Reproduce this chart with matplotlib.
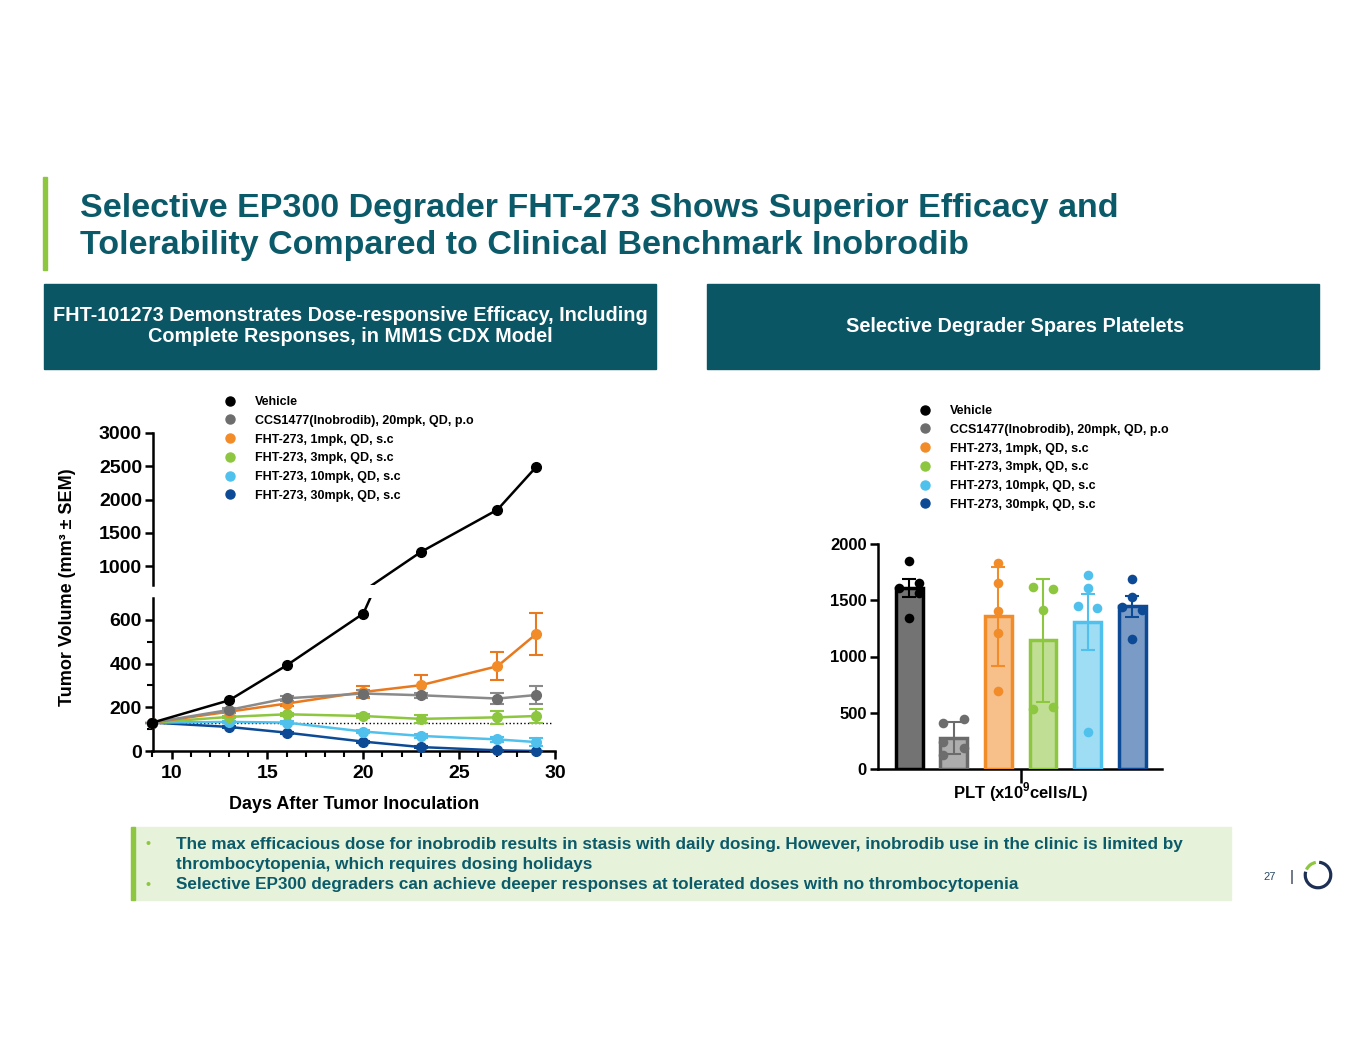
import matplotlib.pyplot as plt
from matplotlib.patches import Rectangle, Arc
from matplotlib.lines import Line2D
from matplotlib.colors import to_rgba

plt.rcParams['font.family'] = ['Liberation Sans', 'DejaVu Sans']
plt.rcParams['font.weight'] = 'bold'
plt.rcParams['axes.labelweight'] = 'bold'
plt.rcParams['mathtext.fontset'] = 'custom'
plt.rcParams['mathtext.bf'] = 'Liberation Sans:bold'

# ---- data: tumour volume (mm3) by day ----
days = [9, 13, 16, 20, 23, 27, 29]
vehicle = [130, 232, 392, 629, 1215, 1850, 2485]
ccs1477 = [130, 188, 241, 263, 255, 240, 256]
fht_1 = [130, 180, 217, 270, 301, 388, 534]
fht_3 = [130, 156, 168, 160, 147, 154, 160]
fht_10 = [130, 133, 130, 89, 69, 53, 41]
fht_30 = [130, 110, 84, 43, 18, 3, 0]

ccs1477_err = [0, 8, 12, 15, 12, 25, 42]
fht_1_err = [0, 8, 10, 27, 45, 65, 96]
fht_3_err = [0, 6, 8, 10, 18, 29, 33]
fht_10_err = [0, 4, 5, 8, 8, 10, 18]
fht_30_err = [0, 3, 4, 5, 4, 2, 2]

groups = ['Vehicle', 'CCS1477(Inobrodib), 20mpk, QD, p.o', 'FHT-273, 1mpk, QD, s.c',
          'FHT-273, 3mpk, QD, s.c', 'FHT-273, 10mpk, QD, s.c', 'FHT-273, 30mpk, QD, s.c']

# ---- data: platelets (x10^9 cells/L) ----
plt_mean = [1606, 275, 1357, 1143, 1308, 1445]
plt_err = [80, 140, 440, 550, 250, 92]
plt_points = [
    [1849, 1656, 1612, 1567, 1345],
    [406, 444, 243, 184, 124],
    [1828, 1656, 1404, 1205, 691],
    [1614, 1602, 1412, 537, 552],
    [1724, 1605, 1451, 1433, 329],
    [1685, 1531, 1436, 1412, 1160],
]

# styling
line_colors = ['#000000', '#8a8a8a', '#e8791e', '#8dc63f', '#4fc1ec', '#0d4a96']
marker_colors = ['#000000', '#6d6d6d', '#f28c28', '#8dc63f', '#4fc1ec', '#0d4a96']
bar_edges = ['#000000', '#6b6b6b', '#f28c28', '#8dc63f', '#4fc1ec', '#0d4a96']
jitter = [
    [0, 0.22, -0.24, 0.22, 0],
    [-0.24, 0.24, -0.24, 0.22, -0.24],
    [0, 0, 0, 0, 0],
    [-0.22, 0.22, 0, -0.22, 0.22],
    [0, 0, -0.22, 0.22, 0],
    [0, 0, -0.22, 0.22, 0],
]
teal = '#0b5a69'
green = '#8dc63f'

W, H = 1365, 1055


def box(l, t, r, b):
    return [l / W, 1 - b / H, (r - l) / W, (b - t) / H]


def fx(x):
    return x / W


def fy(y):
    return 1 - y / H


fig = plt.figure(figsize=(W / 100, H / 100), dpi=100)

# ---- slide title ----
fig.add_artist(Rectangle((fx(43), fy(270)), 4 / W, 93 / H, color=green, transform=fig.transFigure))
fig.text(fx(80), fy(209), 'Selective EP300 Degrader FHT-273 Shows Superior Efficacy and',
         fontsize=24.5, color=teal, va='center')
fig.text(fx(80), fy(245), 'Tolerability Compared to Clinical Benchmark Inobrodib',
         fontsize=24.5, color=teal, va='center')

# ---- section headers ----
hdr = '#0a5664'
fig.add_artist(Rectangle((fx(44), fy(369)), 612 / W, 85 / H, color=hdr, transform=fig.transFigure))
fig.add_artist(Rectangle((fx(707), fy(369)), 612 / W, 85 / H, color=hdr, transform=fig.transFigure))
fig.text(fx(350), fy(326), 'FHT-101273 Demonstrates Dose-responsive Efficacy, Including\nComplete Responses, in MM1S CDX Model',
         fontsize=14.3, color='white', ha='center', va='center', linespacing=1.1)
fig.text(fx(1015), fy(326), 'Selective Degrader Spares Platelets',
         fontsize=14.3, color='white', ha='center', va='center')

# ---- tumour volume chart (broken y axis) ----
ax_top = fig.add_axes(box(152.5, 433, 555, 585))
ax_bot = fig.add_axes(box(152.5, 598, 555, 751))

series = [vehicle, ccs1477, fht_1, fht_3, fht_10, fht_30]
errs = [None, ccs1477_err, fht_1_err, fht_3_err, fht_10_err, fht_30_err]

ax_bot.hlines(vehicle[0], days[0], 29.8, colors='black', linestyles=':', linewidth=1, zorder=1)

handles = []
for i, (vals, err) in enumerate(zip(series, errs)):
    lc, mc = line_colors[i], marker_colors[i]
    z = 3 + (6 - i) * 0.1
    ax_bot.plot(days, vals, color=lc, lw=1.8, zorder=z)
    if err is not None:
        ax_bot.errorbar(days, vals, yerr=err, fmt='none', ecolor=lc, elinewidth=1.5,
                        capsize=5, capthick=1.5, clip_on=False, zorder=z)
    lo = [(d, v) for d, v in zip(days, vals) if v <= 700]
    ax_bot.plot([d for d, v in lo], [v for d, v in lo], 'o', color=mc, ms=7,
                clip_on=False, zorder=z + 0.05)
    if i == 0:
        ax_top.plot(days, vals, color=lc, lw=1.8, zorder=3)
        hi = [(d, v) for d, v in zip(days, vals) if v > 720]
        ax_top.plot([d for d, v in hi], [v for d, v in hi], 'o', color=mc, ms=7,
                    clip_on=False, zorder=4)
    handles.append(Line2D([], [], ls='none', marker='o', color=mc, ms=6.5))

ax_top.set_xlim(9, 30)
ax_bot.set_xlim(9, 30)
ax_top.set_ylim(720, 3000)
ax_bot.set_ylim(0, 700)

for ax in (ax_top, ax_bot):
    ax.spines['right'].set_visible(False)
    for s in ax.spines.values():
        s.set_linewidth(1.8)
    ax.tick_params(width=1.8, length=6, labelsize=14, pad=1.5)
    ax.tick_params(which='minor', width=1.5, length=4)
    ax.patch.set_alpha(0)
ax_top.spines['bottom'].set_visible(False)
ax_top.spines['top'].set_visible(False)
ax_top.set_xticks([])
ax_top.set_yticks([1000, 1500, 2000, 2500, 3000])
ax_bot.spines['top'].set_visible(False)
ax_bot.set_yticks([0, 200, 400, 600])
ax_bot.set_yticks([100, 300, 500], minor=True)
ax_bot.set_xticks([10, 15, 20, 25, 30])
ax_bot.set_xticks(range(9, 31), minor=True)
ax_bot.tick_params(axis='x', pad=4)
ax_bot.set_xlabel('Days After Tumor Inoculation', fontsize=13, labelpad=10)
fig.text(fx(68), fy(587), 'Tumor Volume (mm\u00b3 \u00b1 SEM)', fontsize=13,
         rotation=90, ha='center', va='center')

fig.legend(handles, groups, loc='upper left', bbox_to_anchor=(fx(224), fy(396)),
           frameon=False, fontsize=9, handlelength=1, handletextpad=1.5,
           labelspacing=0.54, borderpad=0, borderaxespad=0)

# ---- platelet bar chart ----
axb = fig.add_axes(box(878, 544, 1162, 769))
xs = list(range(len(plt_mean)))
for i in xs:
    ec = bar_edges[i]
    axb.errorbar(i, plt_mean[i], yerr=plt_err[i], fmt='none', ecolor=ec, elinewidth=1.5,
                 capsize=5, capthick=1.5, zorder=2)
    axb.bar(i, plt_mean[i], width=0.6, color=to_rgba(ec, 0.55), edgecolor=ec,
            linewidth=2.5, zorder=3)
    axb.scatter([i + j for j in jitter[i]], plt_points[i], s=48, color=marker_colors[i],
                zorder=4, clip_on=False, linewidths=0)
axb.set_xlim(-0.7, 5.67)
axb.set_ylim(0, 2000)
axb.spines['right'].set_visible(False)
axb.spines['top'].set_visible(False)
for s in axb.spines.values():
    s.set_linewidth(1.8)
axb.set_yticks([0, 500, 1000, 1500, 2000])
axb.set_xticks([2.5])
axb.set_xticklabels(['PLT (x10$^{\\mathbf{9}}$cells/L)'])
axb.tick_params(width=1.8, length=6, labelsize=12, pad=2)
axb.tick_params(axis='x', length=10, pad=-2)

fig.legend(handles, groups, loc='upper left', bbox_to_anchor=(fx(919), fy(405)),
           frameon=False, fontsize=9, handlelength=1, handletextpad=1.5,
           labelspacing=0.54, borderpad=0, borderaxespad=0)

# ---- bottom take-away box ----
fig.add_artist(Rectangle((fx(131), fy(900)), 1100 / W, 73 / H, color='#e6f2da', transform=fig.transFigure))
fig.add_artist(Rectangle((fx(131), fy(900)), 4 / W, 73 / H, color=green, transform=fig.transFigure))
bullets = [
    (844, True, 'The max efficacious dose for inobrodib results in stasis with daily dosing. However, inobrodib use in the clinic is limited by'),
    (864, False, 'thrombocytopenia, which requires dosing holidays'),
    (885, True, 'Selective EP300 degraders can achieve deeper responses at tolerated doses with no thrombocytopenia'),
]
for y, dot, txt in bullets:
    if dot:
        fig.text(fx(145), fy(y), '\u2022', fontsize=10, color=green, va='center')
    fig.text(fx(176), fy(y), txt, fontsize=12.3, color=teal, va='center')

# ---- footer ----
fig.text(fx(1270), fy(877), '27', fontsize=8, color='#2a4a66', ha='center', va='center',
         fontweight='normal')
fig.text(fx(1292), fy(877), '|', fontsize=11, color='#1f2f4a', ha='center', va='center',
         fontweight='normal')
axl = fig.add_axes(box(1303, 860, 1333, 890))
axl.set_xlim(-1, 1)
axl.set_ylim(-1, 1)
axl.axis('off')
axl.add_patch(Arc((0, 0), 1.7, 1.7, theta1=165, theta2=445, color='#1d2f55', lw=2.3))
axl.add_patch(Arc((0, 0), 1.7, 1.7, theta1=100, theta2=155, color=green, lw=2.3))

fig.savefig('out.png', dpi=100)
